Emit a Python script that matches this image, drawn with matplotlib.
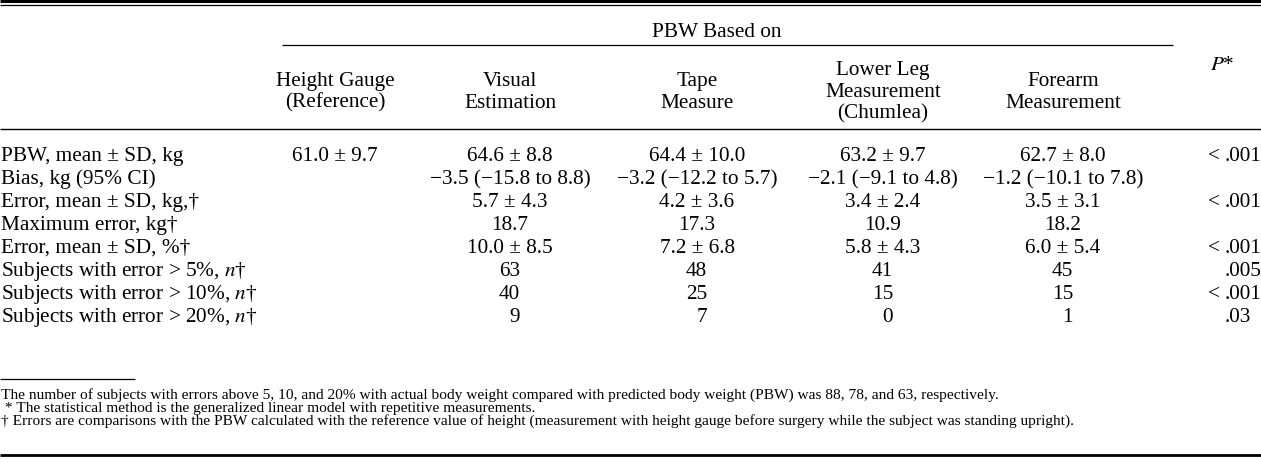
import matplotlib.pyplot as plt

plt.rcParams['font.family'] = ['Liberation Serif', 'DejaVu Serif']
plt.rcParams['mathtext.fontset'] = 'stix'

# table content
group_title = "PBW Based on"
col_headers = ["Height Gauge\n(Reference)", "Visual\nEstimation", "Tape\nMeasure",
               "Lower Leg\nMeasurement\n(Chumlea)", "Forearm\nMeasurement"]
row_labels = ["PBW, mean \u00b1 SD, kg", "Bias, kg (95% CI)", "Error, mean \u00b1 SD, kg,\u2020",
              "Maximum error, kg\u2020", "Error, mean \u00b1 SD, %\u2020",
              "Subjects with error > 5%, $\\it{n}$\u2020",
              "Subjects with error > 10%, $\\it{n}$\u2020",
              "Subjects with error > 20%, $\\it{n}$\u2020"]
height_gauge = ["61.0 \u00b1 9.7", "", "", "", "", "", "", ""]
visual = ["64.6 \u00b1 8.8", "\u22123.5 (\u221215.8 to 8.8)", "5.7 \u00b1 4.3", "18.7",
          "10.0 \u00b1 8.5", "63", "40", "9"]
tape = ["64.4 \u00b1 10.0", "\u22123.2 (\u221212.2 to 5.7)", "4.2 \u00b1 3.6", "17.3",
        "7.2 \u00b1 6.8", "48", "25", "7"]
lower_leg = ["63.2 \u00b1 9.7", "\u22122.1 (\u22129.1 to 4.8)", "3.4 \u00b1 2.4", "10.9",
             "5.8 \u00b1 4.3", "41", "15", "0"]
forearm = ["62.7 \u00b1 8.0", "\u22121.2 (\u221210.1 to 7.8)", "3.5 \u00b1 3.1", "18.2",
           "6.0 \u00b1 5.4", "45", "15", "1"]
p_prefix = ["< ", "", "< ", "", "< ", "", "< ", ""]
p_values = [".001", "", ".001", "", ".001", ".005", ".001", ".03"]
footnotes = [
    "The number of subjects with errors above 5, 10, and 20% with actual body weight compared with predicted body weight (PBW) was 88, 78, and 63, respectively.",
    " * The statistical method is the generalized linear model with repetitive measurements.",
    "\u2020 Errors are comparisons with the PBW calculated with the reference value of height (measurement with height gauge before surgery while the subject was standing upright).",
]

W, H = 1261, 464
fig = plt.figure(figsize=(W / 100, H / 100), dpi=100)
ax = fig.add_axes([0, 0, 1, 1])
ax.set_xlim(0, W)
ax.set_ylim(H, 0)
ax.axis('off')

fs = 15.3
col_x = [335, 510, 697, 883, 1063]
p_x = 1225
row_base = [161, 184, 207, 230, 253, 276, 299, 322]

# rules
ax.plot([0, W], [1.5, 1.5], color='black', lw=2.2, solid_capstyle='butt')
ax.plot([0, W], [6, 6], color='black', lw=0.9, solid_capstyle='butt')
ax.plot([282, 1173], [46, 46], color='black', lw=0.9, solid_capstyle='butt')
ax.plot([0, W], [129.5, 129.5], color='black', lw=1.0, solid_capstyle='butt')
ax.plot([0, 135], [380, 380], color='black', lw=0.9, solid_capstyle='butt')
ax.plot([0, W], [456, 456], color='black', lw=2.0, solid_capstyle='butt')

# headers
ax.text(717, 37, group_title, ha='center', va='baseline', fontsize=fs)
for x, h in zip(col_x, col_headers):
    lines = h.split('\n')
    b0 = 97 - (len(lines) - 1) * 21.5 / 2 + 0.0
    for i, line in enumerate(lines):
        ax.text(x, b0 + i * 21.5, line, ha='center', va='baseline', fontsize=fs)
ax.text(1222, 70, "$\\it{P}$*", ha='center', va='baseline', fontsize=fs)

# body
columns = [height_gauge, visual, tape, lower_leg, forearm]
for r, (label, y) in enumerate(zip(row_labels, row_base)):
    ax.text(1, y, label, ha='left', va='baseline', fontsize=fs)
    for x, col in zip(col_x, columns):
        val = col[r]
        if val.isdigit():
            ax.text(x + 10, y, val, ha='right', va='baseline', fontsize=fs)
        else:
            ax.text(x, y, val, ha='center', va='baseline', fontsize=fs)
    if p_values[r]:
        ax.text(p_x, y, p_values[r], ha='left', va='baseline', fontsize=fs)
        if p_prefix[r]:
            ax.text(p_x, y, p_prefix[r], ha='right', va='baseline', fontsize=fs)

# footnotes
for i, note in enumerate(footnotes):
    ax.text(1, 399 + i * 12.7, note, ha='left', va='baseline', fontsize=11.1)

fig.savefig('out.png', dpi=100)
